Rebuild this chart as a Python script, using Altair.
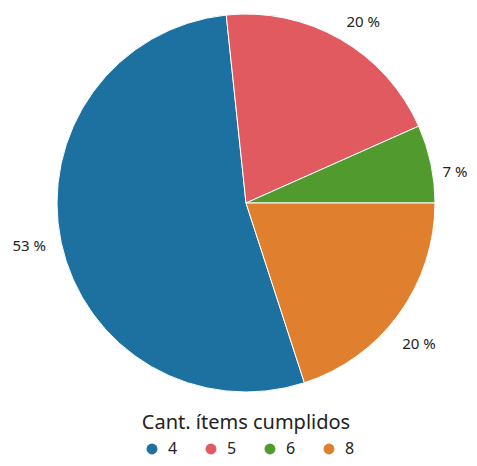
import math
import altair as alt
import pandas as pd

categorias = ["4", "5", "6", "8"]
cantidades = [8, 3, 1, 3]
orden_porcion = [1, 2, 3, 0]
colores = ["#1d71a0", "#e05a5f", "#519a2e", "#e0802f"]

total = sum(cantidades)
etiquetas = [f"{round(c / total * 100)} %" for c in cantidades]

df = pd.DataFrame({
    "cat": categorias,
    "n": cantidades,
    "orden": orden_porcion,
    "label": etiquetas,
})

FONT = "Noto Sans"
START = math.pi / 2
SHIFT = 0.038

color_enc = alt.Color(
    "cat:N",
    scale=alt.Scale(domain=categorias, range=colores),
    legend=alt.Legend(
        title="Cant. ítems cumplidos",
        orient="none",
        direction="horizontal",
        legendX=130,
        legendY=405,
        titleFontSize=20,
        titleFont=FONT,
        titleFontWeight="normal",
        titleColor="#222222",
        titleAnchor="middle",
        titleLimit=400,
        titlePadding=8,
        labelFontSize=16,
        labelFont=FONT,
        labelColor="#222222",
        symbolType="circle",
        symbolSize=120,
        symbolStrokeWidth=0,
        symbolOffset=6,
        columnPadding=19,
        labelOffset=8,
    ),
)

arc = alt.Chart(df).mark_arc(outerRadius=189, stroke="white", strokeWidth=1).encode(
    theta=alt.Theta("n:Q", stack=True,
                    scale=alt.Scale(range=[START, START + 2 * math.pi])),
    order=alt.Order("orden:Q"),
    color=color_enc,
    x=alt.value(238), y=alt.value(195),
)

text_scale = alt.Scale(range=[START + SHIFT, START + SHIFT + 2 * math.pi])


# stacking must see all rows, so blank the labels instead of filtering rows
def capa_texto(radio, cats):
    return alt.Chart(df).mark_text(
        radius=radio, fontSize=15, font=FONT, dy=5
    ).encode(
        theta=alt.Theta("n:Q", stack=True, scale=text_scale),
        order=alt.Order("orden:Q"),
        text=alt.Text("label_vis:N"),
        color=alt.value("#222222"),
        x=alt.value(238), y=alt.value(195),
    ).transform_calculate(
        label_vis="indexof(" + str(cats) + ", datum.cat) >= 0 ? datum.label : ''"
    )


text_a = capa_texto(220, ["4", "5", "8"])
text_b = capa_texto(212, ["6"])

chart = (arc + text_a + text_b).resolve_scale(theta="independent").properties(
    width=461, height=450, padding=0, autosize="none"
).configure_view(stroke=None)

chart.save("out.html", embed_options={"renderer": "svg", "actions": False})
